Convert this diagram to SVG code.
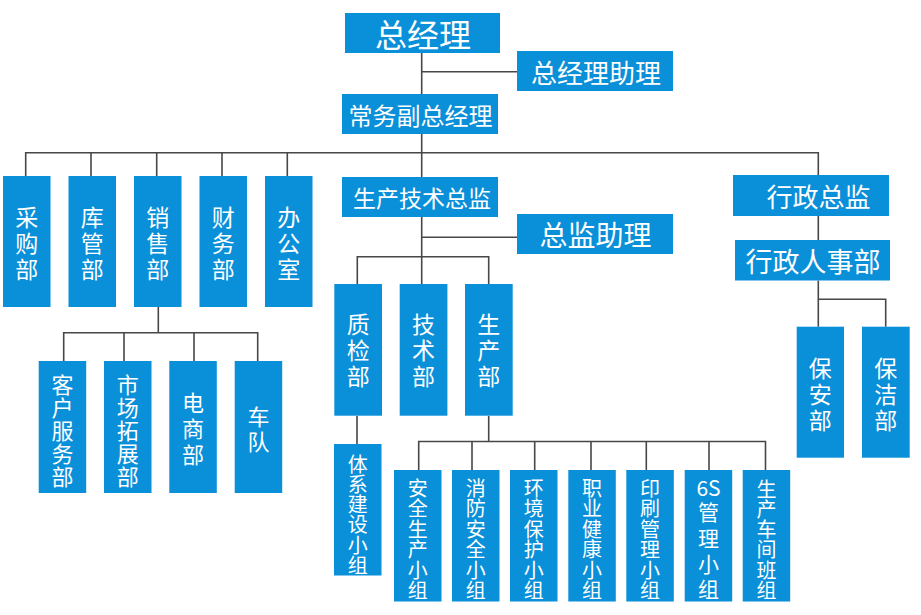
<svg xmlns="http://www.w3.org/2000/svg" width="921" height="615" viewBox="0 0 921 615">
<style>
.box{fill:#0a8fd9}
.t{fill:#ffffff;font-family:"Noto Sans CJK SC","Noto Sans",sans-serif;text-anchor:middle;dominant-baseline:central}
.c{fill:none;stroke:#474747;stroke-width:1.6}
</style>
<rect width="921" height="615" fill="#ffffff"/>
<g id="connectors" class="c">
<path d="M421.7 53V284"/>
<path d="M421.7 71.7H517"/>
<path d="M25.7 176V152.7H818.3V175"/>
<path d="M91 152.7V176M156.7 152.7V176M222 152.7V176M287.3 152.7V176"/>
<path d="M158.3 307V332.7"/>
<path d="M63.7 361V332.7H257.7V361M124 332.7V361M194 332.7V361"/>
<path d="M421.7 237.3H517"/>
<path d="M357.3 284V256.7H488.7V284"/>
<path d="M357 416V444"/>
<path d="M488.7 416V441.5"/>
<path d="M418.7 470V441.5H765.5V470M472 441.5V470M534.7 441.5V470M591 441.5V470M646.3 441.5V470M709 441.5V470"/>
<path d="M818.3 216V240M818.3 280.5V326.7M818.3 299.3H885.7V326.7"/>
</g>
<g id="gm"><rect class="box" x="345" y="13" width="155" height="40"/><text class="t" x="423" y="33.3" font-size="32">总经理</text></g>
<g id="gm-assistant"><rect class="box" x="517" y="51" width="156" height="40"/><text class="t" x="596" y="71" font-size="26">总经理助理</text></g>
<g id="vp"><rect class="box" x="342" y="94" width="156" height="40"/><text class="t" x="420.5" y="114" font-size="24">常务副总经理</text></g>
<g id="prod-director"><rect class="box" x="342" y="177" width="156" height="40"/><text class="t" x="422" y="197" font-size="23">生产技术总监</text></g>
<g id="director-assistant"><rect class="box" x="517" y="214" width="156" height="40"/><text class="t" x="595.5" y="234" font-size="28">总监助理</text></g>
<g id="admin-director"><rect class="box" x="733" y="175" width="156" height="41"/><text class="t" x="818.5" y="195.5" font-size="26">行政总监</text></g>
<g id="hr"><rect class="box" x="735" y="240" width="155" height="40.5"/><text class="t" x="813" y="260.3" font-size="27">行政人事部</text></g>

<g id="purchase"><rect class="box" x="3" y="176" width="47.5" height="131"/><text class="t" font-size="23"><tspan x="26.8" y="215.5">采</tspan><tspan x="26.8" y="241.5">购</tspan><tspan x="26.8" y="267.5">部</tspan></text></g>
<g id="warehouse"><rect class="box" x="68.5" y="176" width="47.5" height="131"/><text class="t" font-size="23"><tspan x="92.3" y="215.5">库</tspan><tspan x="92.3" y="241.5">管</tspan><tspan x="92.3" y="267.5">部</tspan></text></g>
<g id="sales"><rect class="box" x="134" y="176" width="47.5" height="131"/><text class="t" font-size="23"><tspan x="157.8" y="215.5">销</tspan><tspan x="157.8" y="241.5">售</tspan><tspan x="157.8" y="267.5">部</tspan></text></g>
<g id="finance"><rect class="box" x="199.5" y="176" width="47.5" height="131"/><text class="t" font-size="23"><tspan x="223.3" y="215.5">财</tspan><tspan x="223.3" y="241.5">务</tspan><tspan x="223.3" y="267.5">部</tspan></text></g>
<g id="office"><rect class="box" x="265" y="176" width="47.5" height="131"/><text class="t" font-size="23"><tspan x="288.8" y="215.5">办</tspan><tspan x="288.8" y="241.5">公</tspan><tspan x="288.8" y="267.5">室</tspan></text></g>

<g id="customer-service"><rect class="box" x="38.7" y="361" width="47.5" height="132"/><text class="t" font-size="22"><tspan x="62.5" y="383">客</tspan><tspan x="62.5" y="406">户</tspan><tspan x="62.5" y="429">服</tspan><tspan x="62.5" y="452">务</tspan><tspan x="62.5" y="475">部</tspan></text></g>
<g id="market"><rect class="box" x="104" y="361" width="47.5" height="132"/><text class="t" font-size="22"><tspan x="127.8" y="383">市</tspan><tspan x="127.8" y="406">场</tspan><tspan x="127.8" y="429">拓</tspan><tspan x="127.8" y="452">展</tspan><tspan x="127.8" y="475">部</tspan></text></g>
<g id="ecommerce"><rect class="box" x="169.3" y="361" width="47.5" height="132"/><text class="t" font-size="22"><tspan x="193" y="401">电</tspan><tspan x="193" y="427">商</tspan><tspan x="193" y="453">部</tspan></text></g>
<g id="fleet"><rect class="box" x="234.7" y="361" width="47.5" height="132"/><text class="t" font-size="22"><tspan x="258.5" y="414.5">车</tspan><tspan x="258.5" y="439.5">队</tspan></text></g>

<g id="qc"><rect class="box" x="334.3" y="284" width="47.7" height="131.7"/><text class="t" font-size="23"><tspan x="358.2" y="323">质</tspan><tspan x="358.2" y="349">检</tspan><tspan x="358.2" y="375">部</tspan></text></g>
<g id="tech"><rect class="box" x="399.7" y="284" width="47.7" height="131.7"/><text class="t" font-size="23"><tspan x="423.5" y="323">技</tspan><tspan x="423.5" y="349">术</tspan><tspan x="423.5" y="375">部</tspan></text></g>
<g id="production"><rect class="box" x="465" y="284" width="47.7" height="131.7"/><text class="t" font-size="23"><tspan x="488.8" y="323">生</tspan><tspan x="488.8" y="349">产</tspan><tspan x="488.8" y="375">部</tspan></text></g>

<g id="system"><rect class="box" x="334" y="444" width="47.5" height="131.5"/><text class="t" font-size="20"><tspan x="357.8" y="462.5">体</tspan><tspan x="357.8" y="482.8">系</tspan><tspan x="357.8" y="503.1">建</tspan><tspan x="357.8" y="523.4">设</tspan><tspan x="357.8" y="543.7">小</tspan><tspan x="357.8" y="564">组</tspan></text></g>

<g id="safety"><rect class="box" x="394" y="470" width="47.5" height="131.5"/><text class="t" font-size="20"><tspan x="417.8" y="486.5">安</tspan><tspan x="417.8" y="507">全</tspan><tspan x="417.8" y="527.5">生</tspan><tspan x="417.8" y="548">产</tspan><tspan x="417.8" y="568.5">小</tspan><tspan x="417.8" y="589">组</tspan></text></g>
<g id="fire"><rect class="box" x="452" y="470" width="47.5" height="131.5"/><text class="t" font-size="20"><tspan x="475.8" y="486.5">消</tspan><tspan x="475.8" y="507">防</tspan><tspan x="475.8" y="527.5">安</tspan><tspan x="475.8" y="548">全</tspan><tspan x="475.8" y="568.5">小</tspan><tspan x="475.8" y="589">组</tspan></text></g>
<g id="environment"><rect class="box" x="510" y="470" width="47.5" height="131.5"/><text class="t" font-size="20"><tspan x="533.8" y="486.5">环</tspan><tspan x="533.8" y="507">境</tspan><tspan x="533.8" y="527.5">保</tspan><tspan x="533.8" y="548">护</tspan><tspan x="533.8" y="568.5">小</tspan><tspan x="533.8" y="589">组</tspan></text></g>
<g id="health"><rect class="box" x="568.3" y="470" width="47.5" height="131.5"/><text class="t" font-size="20"><tspan x="592" y="486.5">职</tspan><tspan x="592" y="507">业</tspan><tspan x="592" y="527.5">健</tspan><tspan x="592" y="548">康</tspan><tspan x="592" y="568.5">小</tspan><tspan x="592" y="589">组</tspan></text></g>
<g id="printing"><rect class="box" x="626.3" y="470" width="47.5" height="131.5"/><text class="t" font-size="20"><tspan x="650" y="486.5">印</tspan><tspan x="650" y="507">刷</tspan><tspan x="650" y="527.5">管</tspan><tspan x="650" y="548">理</tspan><tspan x="650" y="568.5">小</tspan><tspan x="650" y="589">组</tspan></text></g>
<g id="six-s"><rect class="box" x="684.7" y="470" width="47.5" height="131.5"/><text class="t" font-size="21"><tspan x="708.5" y="486.7">6S</tspan><tspan x="708.5" y="511">管</tspan><tspan x="708.5" y="537">理</tspan><tspan x="708.5" y="563">小</tspan><tspan x="708.5" y="588.3">组</tspan></text></g>
<g id="workshop"><rect class="box" x="742.7" y="470" width="47.5" height="131.5"/><text class="t" font-size="20"><tspan x="766.5" y="487.5">生</tspan><tspan x="766.5" y="507.8">产</tspan><tspan x="766.5" y="528.1">车</tspan><tspan x="766.5" y="548.4">间</tspan><tspan x="766.5" y="568.7">班</tspan><tspan x="766.5" y="589">组</tspan></text></g>

<g id="security"><rect class="box" x="796.7" y="326.7" width="47.3" height="131"/><text class="t" font-size="23"><tspan x="820.3" y="366.7">保</tspan><tspan x="820.3" y="393">安</tspan><tspan x="820.3" y="419.3">部</tspan></text></g>
<g id="cleaning"><rect class="box" x="862" y="326.7" width="47.7" height="131"/><text class="t" font-size="23"><tspan x="885.8" y="366.7">保</tspan><tspan x="885.8" y="393">洁</tspan><tspan x="885.8" y="419.3">部</tspan></text></g>
</svg>
